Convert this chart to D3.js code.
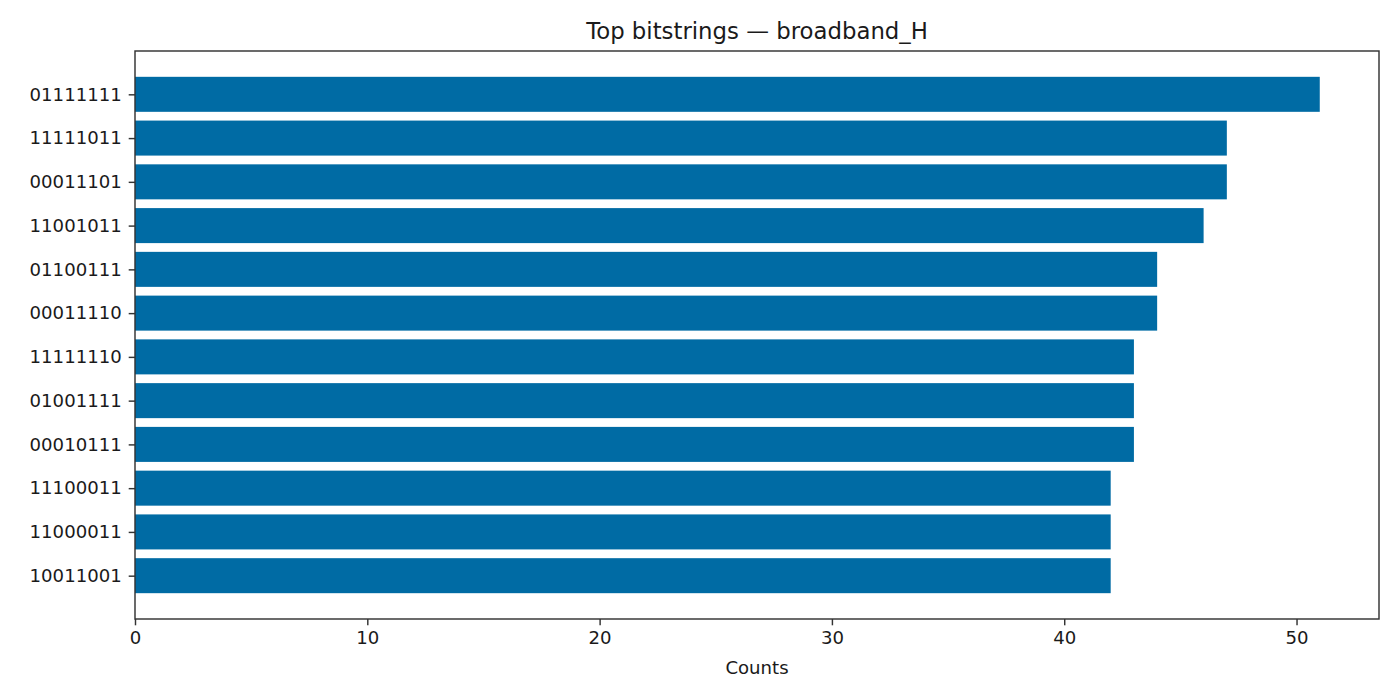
<!DOCTYPE html>
<html>
<head>
<meta charset="utf-8">
<script src="https://cdn.jsdelivr.net/npm/d3@7"></script>
<style>
  body { margin: 0; background: #fff; }
</style>
</head>
<body>
<svg id="chart" width="1400" height="700" font-family="DejaVu Sans, sans-serif"></svg>
<script>
// bitstrings, top to bottom
var bitstrings = ["01111111", "11111011", "00011101", "11001011", "01100111", "00011110",
    "11111110", "01001111", "00010111", "11100011", "11000011", "10011001"];
var counts = [51, 47, 47, 46, 44, 44, 43, 43, 43, 42, 42, 42];
var xTicks = [0, 10, 20, 30, 40, 50];

var plotLeft = 135, plotRight = 1379, plotTop = 51, plotBottom = 619;
var font = "DejaVu Sans, sans-serif";
var ink = "#1a1a1a", spine = "#333";
var tickSize = 18.1, titleSize = 22.8;
var svg = d3.select("#chart");

var x = d3.scaleLinear()
    .domain([0, d3.max(counts) * 1.05])
    .range([plotLeft, plotRight]);

// matplotlib-like band: bar height 0.8, 5% margins
var n = bitstrings.length;
var lo = -0.4, hi = n - 1 + 0.4, pad = (hi - lo) * 0.05;
var y = d3.scaleLinear()
    .domain([lo - pad, hi + pad])
    .range([plotTop, plotBottom]);

svg.append("g")
    .selectAll("rect")
    .data(counts)
    .enter()
    .append("rect")
    .attr("x", x(0))
    .attr("y", function (d, i) { return y(i - 0.4); })
    .attr("width", function (d) { return x(d) - x(0); })
    .attr("height", function (d, i) { return y(i + 0.4) - y(i - 0.4); })
    .attr("fill", "#006BA4");

// frame
svg.append("rect")
    .attr("x", plotLeft).attr("y", plotTop)
    .attr("width", plotRight - plotLeft).attr("height", plotBottom - plotTop)
    .attr("fill", "none").attr("stroke", spine).attr("stroke-width", 1.45);

function styleAxis(g) {
    g.attr("font-family", font).attr("font-size", tickSize);
    g.select(".domain").remove();
    g.selectAll("line").attr("stroke", spine).attr("stroke-width", 1.45);
    g.selectAll("text").attr("fill", ink);
}

svg.append("g")
    .attr("transform", "translate(0," + plotBottom + ")")
    .call(d3.axisBottom(x).tickValues(xTicks).tickSize(6.3).tickPadding(6.3))
    .call(styleAxis);

svg.append("g")
    .attr("transform", "translate(" + plotLeft + ",0)")
    .call(d3.axisLeft(y).tickValues(d3.range(n)).tickFormat(function (i) { return bitstrings[i]; })
        .tickSize(6.3).tickPadding(7))
    .call(styleAxis);

svg.append("text")
    .attr("x", (plotLeft + plotRight) / 2)
    .attr("y", 674)
    .attr("text-anchor", "middle")
    .attr("fill", ink)
    .attr("font-size", tickSize)
    .text("Counts");

svg.append("text")
    .attr("x", (plotLeft + plotRight) / 2)
    .attr("y", 39)
    .attr("text-anchor", "middle")
    .attr("fill", ink)
    .attr("font-size", titleSize)
    .text("Top bitstrings — broadband_H");
</script>
</body>
</html>
